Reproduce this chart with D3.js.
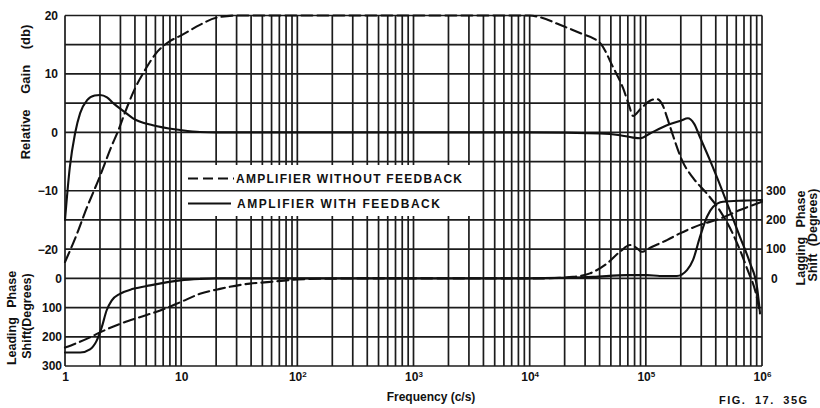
<!DOCTYPE html>
<html><head><meta charset="utf-8">
<script src="https://cdn.jsdelivr.net/npm/d3@7"></script>
<style>
html,body{margin:0;padding:0;background:#fff;}
svg text{font-family:"Liberation Sans",Arial,sans-serif;font-weight:bold;fill:#111;}
</style></head>
<body><svg id="c" width="820" height="408"></svg>
<script>
// ---- data ----
const decades = [1, 10, 100, 1000, 10000, 100000, 1000000];
const decadeExp = ["", "", "2", "3", "4", "5", "6"];
const gainTicks = [20, 10, 0, -10, -20];
const leadTicks = [0, -100, -200, -300];
const lagTicks = [300, 200, 100, 0];
const legendLabels = ["AMPLIFIER WITHOUT FEEDBACK", "AMPLIFIER WITH FEEDBACK"];

// gain without feedback (dashed)
const noFbGainFreq = [1, 1.26, 1.5, 2, 2.5, 2.9, 3.3, 4, 5, 6, 8, 10, 14.5, 20, 30, 100, 1000, 10000, 12300, 18200, 27100, 40300, 52100, 63600, 72000, 77600, 90000, 108600, 124700, 140000, 152000, 171000, 205000, 255000, 336000, 434000, 562000, 743000, 906000, 960000];
const noFbGainDb   = [-22.2, -17.5, -13.5, -7.5, -2.5, 0.5, 3.5, 7.5, 11, 13.4, 15.6, 16.6, 18.4, 19.6, 20, 20, 20, 20, 19.7, 18.4, 17, 15.3, 11.2, 7.6, 4.5, 2.8, 4.0, 5.4, 5.7, 4.6, 2.6, -0.5, -4.8, -7.8, -10.5, -13.4, -17.4, -23.3, -28.4, -31];
// gain with feedback (solid)
const fbGainFreq = [1, 1.1, 1.22, 1.35, 1.55, 1.8, 2, 2.3, 2.6, 3.2, 3.85, 5.7, 9.8, 14.5, 20, 100, 1000, 10000, 40000, 60000, 77600, 90000, 108600, 152000, 200000, 230000, 260000, 292000, 357000, 410000, 500000, 646000, 789000, 906000, 960000];
const fbGainDb   = [-15, -6, -0.2, 3.3, 5.5, 6.3, 6.4, 6.0, 5.0, 3.6, 2.4, 1.2, 0.4, 0.05, 0, 0, 0, 0, -0.2, -0.5, -0.9, -1.0, -0.2, 1.2, 2.0, 2.4, 1.5, -0.8, -4.8, -7.7, -12.1, -17.9, -22.4, -26.5, -30.8];
// phase without feedback (dashed), lagging positive
const noFbPhaseFreq = [1, 1.64, 2, 2.97, 4.4, 6.6, 9.8, 14.5, 21.6, 39, 55, 100, 200, 500, 1000, 10000, 12300, 23700, 33000, 46300, 59900, 73100, 84000, 91800, 113500, 152000, 197000, 292000, 434000, 646000, 1000000];
const noFbPhaseDeg  = [-237, -202, -185, -156, -133, -110, -82, -53, -36, -18, -13, -4, -1, 0, 0, 0, 0, 5, 17, 51, 91, 114, 103, 91, 108, 131, 154, 183, 204, 234, 262];
// phase with feedback (solid), lagging positive
const fbPhaseFreq = [1, 1.35, 1.64, 1.87, 2.07, 2.28, 2.52, 2.97, 3.87, 5.4, 9.8, 14.5, 20, 100, 1000, 10000, 35200, 69000, 102000, 132000, 185000, 226000, 255000, 292000, 336000, 380000, 461000, 690000, 1000000];
const fbPhaseDeg  = [-254, -254, -243, -214, -168, -110, -76, -53, -36, -24, -7, -2, 0, 0, 0, 0, 5, 11, 11, 8, 8, 28, 63, 141, 211, 245, 262, 266, 268];

// ---- scales ----
const svg = d3.select("#c");
const x  = d3.scaleLog().domain([1, 1e6]).range([65, 762]);
const yG = d3.scaleLinear().domain([-40, 20]).range([366, 15.5]);
const yP = d3.scaleLinear().domain([-300, 300]).range([366, 190.7]);

const gridColor = "#1c1c1c";
// vertical grid
const vLines = [];
for (let k = 0; k < 6; k++) for (let m = 1; m <= 9; m++) vLines.push(m * Math.pow(10, k));
vLines.push(1e6);
svg.append("g").selectAll("line").data(vLines).join("line")
  .attr("x1", d => x(d)).attr("x2", d => x(d))
  .attr("y1", yG(20)).attr("y2", yG(-40))
  .attr("stroke", gridColor).attr("stroke-width", 1.7);

// legend backdrop hides vertical grid
svg.append("rect").attr("x", 186).attr("y", 165).attr("width", 284).attr("height", 51).attr("fill", "#fff");

// horizontal grid
svg.append("g").selectAll("line").data(d3.range(-40, 21, 5)).join("line")
  .attr("x1", x(1)).attr("x2", x(1e6))
  .attr("y1", d => yG(d)).attr("y2", d => yG(d))
  .attr("stroke", gridColor).attr("stroke-width", 1.7);

// ---- curves ----
function drawCurve(fr, vals, ys, dashed) {
  const line = d3.line().x((d, i) => x(fr[i])).y(d => ys(d)).curve(d3.curveMonotoneX);
  svg.append("path").datum(vals).attr("d", line)
    .attr("fill", "none").attr("stroke", "#111").attr("stroke-width", 2.1)
    .attr("stroke-linecap", "round")
    .attr("stroke-dasharray", dashed ? "11,5" : null);
}
drawCurve(noFbGainFreq, noFbGainDb, yG, true);
drawCurve(fbGainFreq, fbGainDb, yG, false);
drawCurve(noFbPhaseFreq, noFbPhaseDeg, yP, true);
drawCurve(fbPhaseFreq, fbPhaseDeg, yP, false);

// ---- axes (labels only) ----
const gL = svg.append("g").attr("transform", `translate(${x(1)},0)`)
  .call(d3.axisLeft(yG).tickValues(gainTicks).tickSize(0).tickPadding(7)
    .tickFormat(d => d < 0 ? "\u2212" + Math.abs(d) : d));
const gLP = svg.append("g").attr("transform", `translate(${x(1)},0)`)
  .call(d3.axisLeft(yP).tickValues(leadTicks).tickSize(0).tickPadding(3)
    .tickFormat(d => Math.abs(d)));
const gR = svg.append("g").attr("transform", `translate(${x(1e6)},0)`)
  .call(d3.axisRight(yP).tickValues(lagTicks).tickSize(0).tickPadding(4));
const gB = svg.append("g").attr("transform", `translate(0,${yG(-40)})`)
  .call(d3.axisBottom(x).tickValues(decades).tickSize(0).tickPadding(6).tickFormat(d => ""));
[gL, gLP, gR, gB].forEach(g => {
  g.select(".domain").remove();
  g.selectAll("text").attr("font-size", 12).attr("font-family", null).attr("fill", "#111");
});
gR.selectAll(".tick").filter(d => d === 0).select("text").attr("x", 9);
gB.selectAll(".tick text").each(function (d, i) {
  const t = d3.select(this);
  t.append("tspan").text(i === 0 ? "1" : "10");
  if (decadeExp[i]) t.append("tspan").attr("dy", "-0.45em").attr("font-size", 8).text(decadeExp[i]);
});

// ---- titles ----
svg.append("text").attr("transform", "translate(25,92) rotate(-90)")
  .attr("text-anchor", "middle").attr("dominant-baseline", "central")
  .attr("font-size", 13).attr("word-spacing", 12).text("Relative Gain (db)");
svg.append("text").attr("transform", "translate(12,318) rotate(-90)")
  .attr("text-anchor", "middle").attr("dominant-baseline", "central")
  .attr("font-size", 12.5).attr("word-spacing", 6).text("Leading Phase");
svg.append("text").attr("transform", "translate(27,316) rotate(-90)")
  .attr("text-anchor", "middle").attr("dominant-baseline", "central")
  .attr("font-size", 12.5).text("Shift(Degrees)");
svg.append("text").attr("transform", "translate(801,238) rotate(-90)")
  .attr("text-anchor", "middle").attr("dominant-baseline", "central")
  .attr("font-size", 12.5).attr("word-spacing", 6).text("Lagging Phase");
svg.append("text").attr("transform", "translate(813,235) rotate(-90)")
  .attr("text-anchor", "middle").attr("dominant-baseline", "central")
  .attr("font-size", 12.5).attr("word-spacing", 4).text("Shift (Degrees)");
svg.append("text").attr("x", 431).attr("y", 401).attr("text-anchor", "middle")
  .attr("font-size", 12).text("Frequency (c/s)");
svg.append("text").attr("x", 719).attr("y", 404)
  .attr("font-size", 11).attr("letter-spacing", 1.5).attr("word-spacing", 4).text("FIG. 17. 35G");

// ---- legend ----
const lg = svg.append("g");
lg.append("line").attr("x1", 188).attr("x2", 234).attr("y1", 178.5).attr("y2", 178.5)
  .attr("stroke", "#111").attr("stroke-width", 2.1).attr("stroke-dasharray", "10,5");
lg.append("line").attr("x1", 188).attr("x2", 231).attr("y1", 203.5).attr("y2", 203.5)
  .attr("stroke", "#111").attr("stroke-width", 2.1);
lg.append("text").attr("x", 236).attr("y", 183).attr("font-size", 12)
  .attr("textLength", 226).attr("lengthAdjust", "spacing").text(legendLabels[0]);
lg.append("text").attr("x", 237).attr("y", 208).attr("font-size", 12)
  .attr("textLength", 203).attr("lengthAdjust", "spacing").text(legendLabels[1]);
</script></body></html>
